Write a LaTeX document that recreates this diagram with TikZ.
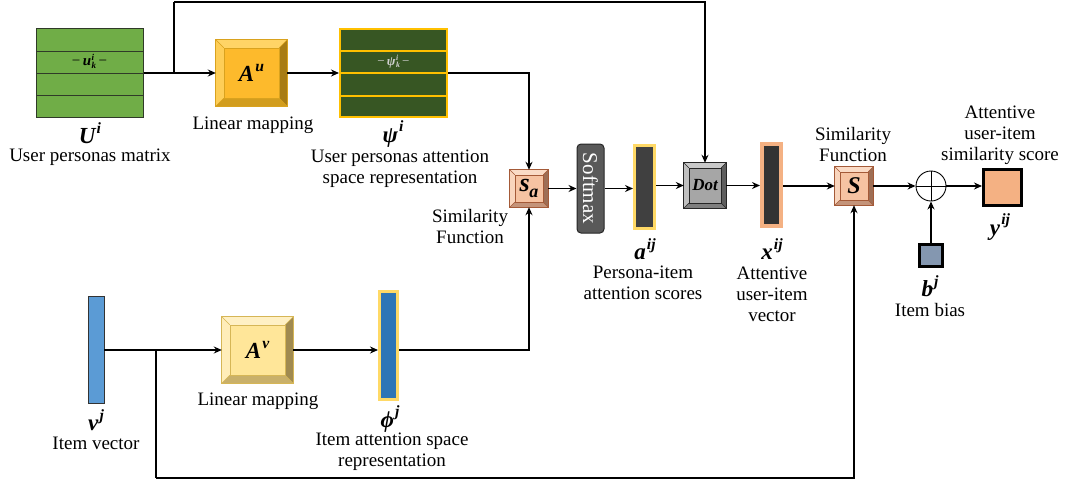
\documentclass[tikz,border=0pt]{standalone}
\usepackage{fontspec}
\setmainfont{Liberation Serif}
\usetikzlibrary{arrows.meta,calc}
\definecolor{ugreen}{HTML}{70AD47}
\definecolor{ugreenbd}{HTML}{2F3A28}
\definecolor{psigreen}{HTML}{375623}
\definecolor{gold}{HTML}{FFC000}
\definecolor{lgold}{HTML}{FFD966}
\definecolor{vblue}{HTML}{5B9BD5}
\definecolor{pblue}{HTML}{2E75B6}
\definecolor{salmon}{HTML}{F4B183}
\definecolor{slate}{HTML}{8497B0}
\definecolor{smax}{HTML}{595959}
% bevel colour sets
\definecolor{Aubase}{HTML}{FDBA2C}\definecolor{Ault}{HTML}{FFD466}\definecolor{Audk}{HTML}{D29D1E}\definecolor{Audr}{HTML}{A87C14}\definecolor{Aubd}{HTML}{D9A21E}
\definecolor{Avbase}{HTML}{FFE699}\definecolor{Avlt}{HTML}{FFF0C4}\definecolor{Avdk}{HTML}{C9B06A}\definecolor{Avdr}{HTML}{A08A50}\definecolor{Avbd}{HTML}{D6B656}
\definecolor{Sxbase}{HTML}{F6C3A2}\definecolor{Sxlt}{HTML}{FADBC6}\definecolor{Sxdk}{HTML}{C4947A}\definecolor{Sxdr}{HTML}{9E6E55}\definecolor{Sxbd}{HTML}{A45A38}
\definecolor{Dtbase}{HTML}{A6A6A6}\definecolor{Dtlt}{HTML}{C9C9C9}\definecolor{Dtdk}{HTML}{7F7F7F}\definecolor{Dtdr}{HTML}{5E5E5E}\definecolor{Dtbd}{HTML}{262626}
\newcommand\bvbox[7]{%
 \node[minimum width=#3pt, minimum height=#4pt, inner sep=0pt, fill=#6base] (#1) at (#2) {#7};
 \fill[#6lt] (#1.north west) -- (#1.north east) -- ([shift={(-#5,#5)}]#1.north east) -- ([shift={(#5,#5)}]#1.north west) -- cycle;
 \fill[#6lt!75!#6base] (#1.north west) -- (#1.south west) -- ([shift={(#5,-#5)}]#1.south west) -- ([shift={(#5,#5)}]#1.north west) -- cycle;
 \fill[#6dk] (#1.south west) -- (#1.south east) -- ([shift={(-#5,-#5)}]#1.south east) -- ([shift={(#5,-#5)}]#1.south west) -- cycle;
 \fill[#6dr] (#1.north east) -- (#1.south east) -- ([shift={(-#5,-#5)}]#1.south east) -- ([shift={(-#5,#5)}]#1.north east) -- cycle;
 \draw[#6bd, line width=0.4pt] ([shift={(#5,#5)}]#1.north west) rectangle ([shift={(-#5,-#5)}]#1.south east);
 \draw[#6bd, line width=0.4pt] (#1.north west) -- ([shift={(#5,#5)}]#1.north west)
   (#1.north east) -- ([shift={(-#5,#5)}]#1.north east)
   (#1.south west) -- ([shift={(#5,-#5)}]#1.south west)
   (#1.south east) -- ([shift={(-#5,-#5)}]#1.south east);
 \draw[#6bd, line width=0.7pt] (#1.north west) rectangle (#1.south east);
}
% bold italic letter with superscript
\newcommand\mv[2]{{\bfseries\itshape #1\kern0.05em\raisebox{0.45em}{\fontsize{0.68\dimexpr\fontdimen6\font}{1}\selectfont\bfseries\itshape #2}}}
% bold italic letter with sub and superscript stacked
\newcommand\mvsb[3]{{\bfseries\itshape #1\kern0.04em\rlap{\raisebox{0.36em}{\fontsize{0.6\dimexpr\fontdimen6\font}{1}\selectfont\bfseries\itshape #3}}\raisebox{-0.2em}{\fontsize{0.6\dimexpr\fontdimen6\font}{1}\selectfont\bfseries\itshape #2}}}
\tikzset{
 conn/.style={line width=1.6pt, -{Stealth[length=8pt,width=7pt]}},
 plain/.style={line width=1.6pt},
 txt/.style={font=\fontsize{19}{21}\selectfont, align=center, inner sep=0pt},
 mth/.style={font=\fontsize{23}{25}\selectfont, inner sep=0pt},
}
\begin{document}
\begin{tikzpicture}[x=1pt,y=-1pt]
\useasboundingbox (0,0) rectangle (1071,485);

% U^i matrix
\node[draw=ugreenbd, line width=1pt, fill=ugreen, minimum width=107pt, minimum height=89pt, inner sep=0pt] (U) at (89.5,73) {};
\draw[ugreenbd, line width=1pt] (36,51) -- (143,51) (36,73) -- (143,73) (36,95) -- (143,95);
\node[font=\fontsize{15}{16}\selectfont, inner sep=0pt] (uk) at (89.5,61.5) {−\,\mvsb{u}{k}{i}\,−};
\node[mth] (Ul) at (90,133) {\mv{U}{i}};
\node[txt] (Ut) at (90,157) {User personas matrix};

% A^u
\bvbox{Au}{251.5,73}{71}{66}{8}{Au}{\fontsize{23}{25}\selectfont\mv{A}{u}}
\node[txt] (Aut) at (253,125) {Linear mapping};

% psi^i matrix
\node[draw=gold, line width=2pt, fill=psigreen, minimum width=107pt, minimum height=88pt, inner sep=0pt] (psi) at (393.5,73) {};
\draw[gold, line width=2pt] (340,51) -- (447,51) (340,73) -- (447,73) (340,95.5) -- (447,95.5);
\node[font=\fontsize{13}{14}\selectfont, text=black!18, inner sep=0pt] (psik) at (393.5,61.5) {−\,\mvsb{ψ}{k}{i}\,−};
\node[mth] (psil) at (393,134) {\mv{ψ}{i}};
\node[txt] (psit) at (400,169) {User personas attention\\space representation};

% S_a
\bvbox{Sa}{529,188.5}{38}{37}{5}{Sx}{\fontsize{26}{26}\selectfont\bfseries\itshape s\kern-0.02em\raisebox{-0.2em}{\fontsize{18}{18}\selectfont a}}
\node[txt] (Sat) at (470,226) {Similarity\\Function};

% Softmax
\node[fill=smax, draw=black!85, line width=1pt, rounded corners=4pt, minimum width=27pt, minimum height=89pt, inner sep=0pt] (soft) at (590.5,188.5) {};
\node[rotate=-90, text=white, font=\fontsize{21}{22}\selectfont, inner sep=0pt] (softt) at (soft.center) {Softmax};

% a^ij
\node[draw=lgold, line width=3pt, fill=black!75, minimum width=20pt, minimum height=83pt, inner sep=0pt] (a) at (644.5,187) {};
\node[mth] (al) at (645,249) {\mv{a}{ij}};
\node[txt] (at) at (643,283) {Persona-item\\attention scores};

% Dot
\bvbox{Dot}{705,185.5}{42}{45}{5}{Dt}{\fontsize{17}{18}\selectfont\bfseries\itshape Dot}

% x^ij
\node[draw=salmon, line width=4pt, fill=black!80, minimum width=19pt, minimum height=82pt, inner sep=0pt] (x) at (771.5,185) {};
\node[mth] (xl) at (772,249) {\mv{x}{ij}};
\node[txt] (xt) at (772,294) {Attentive\\user-item\\vector};

% S
\bvbox{S}{854,186}{38}{38}{5}{Sx}{\fontsize{24}{25}\selectfont\bfseries\itshape S}
\node[txt] (St) at (853,144) {Similarity\\Function};

% plus
\node[draw, circle, line width=0.9pt, minimum size=30pt, inner sep=0pt] (plus) at (931,186) {};
\draw[line width=0.9pt] (plus.north) -- (plus.south) (plus.west) -- (plus.east);

% y^ij
\node[draw=black, line width=3pt, fill=salmon, minimum width=38pt, minimum height=36pt, inner sep=0pt] (y) at (1002.5,187.5) {};
\node[mth] (yl) at (1000,227) {\mv{y}{ij}};
\node[txt] (yt) at (1000,135) {Attentive\\user-item\\similarity score};

% b^j
\node[draw=black, line width=3pt, fill=slate, minimum width=23pt, minimum height=22pt, inner sep=0pt] (b) at (931,255.5) {};
\node[mth] (bl) at (930,286) {\mv{b}{j}};
\node[txt] (bt) at (930,310) {Item bias};

% v^j
\node[draw=black!80, line width=0.8pt, fill=vblue, minimum width=16pt, minimum height=107pt, inner sep=0pt] (v) at (96,350) {};
\node[mth] (vl) at (96,420) {\mv{v}{j}};
\node[txt] (vt) at (96,443) {Item vector};

% A^v
\bvbox{Av}{257.5,350}{71}{66}{8}{Av}{\fontsize{23}{25}\selectfont\mv{A}{v}}
\node[txt] (Avt) at (258,401) {Linear mapping};

% phi^j
\node[draw=lgold, line width=3pt, fill=pblue, minimum width=18pt, minimum height=108pt, inner sep=0pt] (phi) at (388.5,345.5) {};
\node[mth] (phil) at (390,419) {\mv{ϕ}{j}};
\node[txt] (phit) at (392,452) {Item attention space\\representation};

% junctions
\coordinate (j1) at (174,73);
\coordinate (topL) at (174,2);
\coordinate (j2) at (156,350);
\coordinate (botL) at (156,478);

% connectors
\draw[conn] (U.east) -- (Au.west);
\draw[plain] (j1) -- (topL);
\draw[conn] (topL) -| (Dot.north);
\draw[conn] (Au.east) -- (psi.west);
\draw[conn] (psi.east) -| (Sa.north);
\draw[conn] (Sa.east) -- (soft.west);
\draw[conn] (soft.east) -- (soft.east -| a.west);
\draw[conn] (Dot.west -| a.east) -- (Dot.west);
\draw[conn] (Dot.east) -- (Dot.east -| x.west);
\draw[conn] (x.east |- S.west) -- (S.west);
\draw[conn] (S.east) -- (plus.west);
\draw[conn] (plus.east) -- (plus.east -| y.west);
\draw[conn] (b.north) -- (plus.south);
\draw[conn] (v.east) -- (Av.west);
\draw[plain] (j2) -- (botL);
\draw[conn] (botL) -| (S.south);
\draw[conn] (Av.east) -- (Av.east -| phi.west);
\draw[conn] (phi.east |- Av.east) -| (Sa.south);
\end{tikzpicture}
\end{document}
